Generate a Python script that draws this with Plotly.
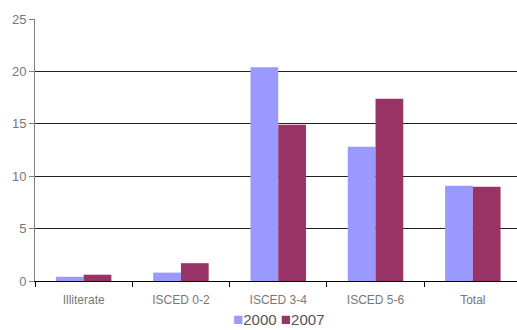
import plotly.graph_objects as go

categories = ["Illiterate", "ISCED 0-2", "ISCED 3-4", "ISCED 5-6", "Total"]
values_2000 = [0.4, 0.8, 20.4, 12.8, 9.1]
values_2007 = [0.6, 1.7, 14.9, 17.4, 9.0]
y_ticks = [0, 5, 10, 15, 20, 25]
series_names = ["2000", "2007"]
series_colors = ["#9999FF", "#993366"]

fig = go.Figure()
for name, vals, color in zip(series_names, [values_2000, values_2007], series_colors):
    fig.add_trace(go.Bar(name=name, x=categories, y=vals, marker_color=color, marker_line_width=0))

# compact legend: coloured squares directly followed by the series names
legend_html = "".join(
    f'<span style="color:{c};font-size:17px">■</span>{n}' + ("" if i == len(series_names) - 1 else " ")
    for i, (n, c) in enumerate(zip(series_names, series_colors))
)

font_family = "Liberation Sans, Arial, sans-serif"
fig.update_layout(
    width=517, height=330,
    margin=dict(l=35, r=0, t=19, b=49, autoexpand=False),
    paper_bgcolor="white", plot_bgcolor="white",
    barmode="group", bargap=0.43, bargroupgap=0,
    font=dict(family=font_family, size=12, color="#666666"),
    showlegend=False,
    annotations=[dict(
        text=legend_html, xref="paper", yref="paper", x=0.505, y=-0.146,
        xanchor="center", yanchor="middle", showarrow=False,
        font=dict(family=font_family, size=15, color="#555555"),
    )],
    xaxis=dict(
        range=[-0.5, 4.454], showline=True, linecolor="#000000", linewidth=1,
        ticks="outside", tickson="boundaries", ticklen=5, tickcolor="#000000",
        showgrid=False, tickfont=dict(size=12, color="#777777"), ticklabelstandoff=8,
    ),
    yaxis=dict(
        range=[0, 25], tickvals=y_ticks, showline=True, linecolor="#808080", linewidth=1,
        ticks="outside", ticklen=5, tickcolor="#808080",
        showgrid=True, gridcolor="#222222", gridwidth=1, zeroline=False,
        tickfont=dict(size=13, color="#777777"),
    ),
)

fig.write_html("out.html")
